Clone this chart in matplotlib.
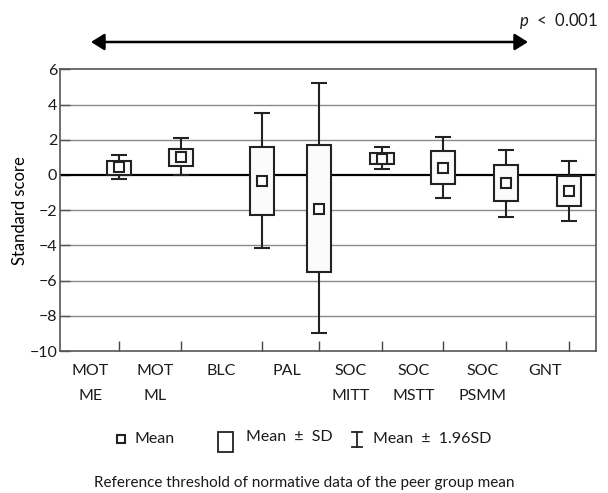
import matplotlib
matplotlib.use('Agg')
import matplotlib.pyplot as plt
from matplotlib.lines import Line2D
from matplotlib.patches import Rectangle, FancyArrowPatch

plt.rcParams['font.family'] = ['Lato', 'DejaVu Sans']
plt.rcParams['text.color'] = '#1a1a1a'
plt.rcParams['mathtext.fontset'] = 'custom'
plt.rcParams['mathtext.it'] = 'Lato:italic'

# data
labels = ['MOT\nME', 'MOT\nML', 'BLC', 'PAL', 'SOC\nMITT', 'SOC\nMSTT', 'SOC\nPSMM', 'GNT']
label_pos = [0.48, 1.51, 2.55, 3.60, 4.61, 5.61, 6.70, 7.69]
box_pos = [0.93, 1.92, 3.21, 4.11, 5.10, 6.08, 7.07, 8.07]
means = [0.45, 1.00, -0.35, -1.95, 0.93, 0.42, -0.44, -0.89]
sd_low = [0.00, 0.50, -2.30, -5.50, 0.60, -0.51, -1.48, -1.74]
sd_high = [0.80, 1.50, 1.60, 1.72, 1.27, 1.35, 0.55, -0.05]
ci_low = [-0.23, 0.00, -4.15, -9.00, 0.36, -1.30, -2.39, -2.60]
ci_high = [1.15, 2.10, 3.50, 5.24, 1.60, 2.15, 1.44, 0.81]
yticks = [-10, -8, -6, -4, -2, 0, 2, 4, 6]

fig = plt.figure(figsize=(6.08, 4.93), dpi=100)
ax = fig.add_axes([0.0987, 0.288, 0.8816, 0.5714])

ax.set_xlim(0, 8.5)
ax.set_ylim(-10, 6)

for y in yticks:
    if y not in (-10, 0, 6):
        ax.axhline(y, color='#8a8a8a', lw=1.0, zorder=1)
ax.axhline(0, color='black', lw=1.6, zorder=2)

# whiskers (hidden inside the box by the white fill)
lower = [m - lo for m, lo in zip(means, ci_low)]
upper = [hi - m for m, hi in zip(means, ci_high)]
ax.errorbar(box_pos, means, yerr=[lower, upper], fmt='none', ecolor='#222222',
            elinewidth=1.5, capsize=5.5, capthick=1.5, zorder=3)

heights = [h - l for h, l in zip(sd_high, sd_low)]
ax.bar(box_pos, heights, bottom=sd_low, width=0.38, facecolor='#fbfbfb',
       edgecolor='#222222', linewidth=1.5, zorder=4)

ax.plot(box_pos, means, 's', ms=7, mfc='white', mec='#222222', mew=1.5,
        ls='none', zorder=5)

# axes styling
for s in ax.spines.values():
    s.set_color('#555555')
    s.set_linewidth(1.2)
ax.set_yticks(yticks)
ax.set_yticklabels([str(v).replace('-', '\u2212') for v in yticks], fontsize=11.5)
ax.tick_params(axis='y', direction='in', length=7, width=1, color='#555555', pad=2,
               labelcolor='#1a1a1a')

ax.set_xticks(label_pos)
ax.set_xticklabels(labels, fontsize=11.5)
for t in ax.get_xticklabels():
    t.set_linespacing(2.0)
ax.set_xticks(box_pos, minor=True)
ax.tick_params(axis='x', which='major', length=0, pad=9, labelcolor='#1a1a1a')
ax.tick_params(axis='x', which='minor', direction='in', length=7, width=1,
               color='#444444')

ax.set_ylabel('Standard score', fontsize=12, labelpad=1)

# double arrow and p value
fig.add_artist(FancyArrowPatch(
    (91 / 608, 1 - 42 / 493), (528 / 608, 1 - 42 / 493),
    transform=fig.transFigure, arrowstyle='<|-|>,head_length=8,head_width=5',
    color='black', lw=1.8, shrinkA=0, shrinkB=0))
fig.text(598 / 608, 1 - 21 / 493, r'$p$  <  0.001', ha='right', va='center',
         fontsize=12)

# legend drawn by hand
ly = 1 - 439 / 493
fig.add_artist(Line2D([121 / 608], [ly], marker='s', ms=6, mfc='white',
                      mec='#222222', mew=1.5, transform=fig.transFigure))
fig.text(134 / 608, ly, 'Mean', fontsize=11.5, va='center')
fig.add_artist(Rectangle((218 / 608, 1 - 452 / 493), 15 / 608, 20 / 493,
                         transform=fig.transFigure, facecolor='white',
                         edgecolor='#222222', lw=1.3))
fig.text(246 / 608, 1 - 437 / 493, 'Mean  ±  SD', fontsize=11.5, va='center')
# whisker symbol
for xs, ys in [([357, 357], [432, 447]), ([352, 362], [432, 432]), ([352, 362], [447, 447])]:
    fig.add_artist(Line2D([x / 608 for x in xs], [1 - y / 493 for y in ys],
                          color='#222222', lw=1.3, transform=fig.transFigure))
fig.text(373 / 608, ly, 'Mean  ±  1.96SD', fontsize=11.5, va='center')

fig.text(0.5, 1 - 483 / 493, 'Reference threshold of normative data of the peer group mean',
         ha='center', va='center', fontsize=11)

fig.savefig('out.png', dpi=100)
